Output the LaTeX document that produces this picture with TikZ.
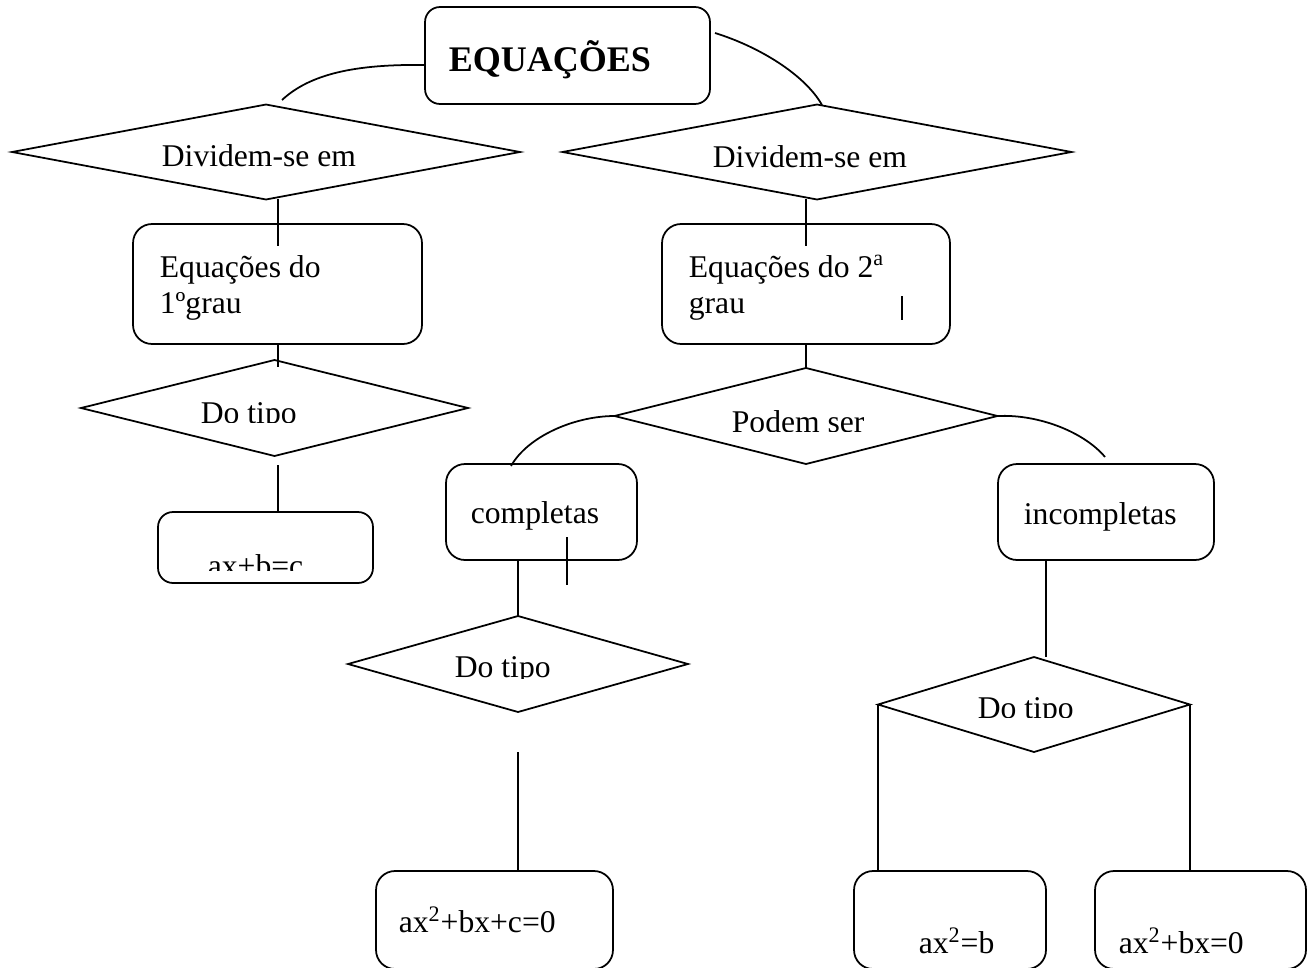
\documentclass[tikz,border=0pt]{standalone}
\usepackage{fontspec}
\setmainfont{Liberation Serif}
\usepackage{tikz}
\usetikzlibrary{shapes.geometric}

\begin{document}
\begin{tikzpicture}[x=0.02cm, y=-0.02cm, line width=1pt,
rbox/.style={draw, rectangle, rounded corners=0.38cm, inner sep=0pt, outer sep=0pt},
dbox/.style={draw, diamond, inner sep=0pt, outer sep=0pt},
lbl/.style={anchor=base west, inner sep=0pt, font=\fontsize{18}{21}\selectfont}]

\useasboundingbox (0,0) rectangle (1307,967);
\clip (0,0) rectangle (1307,967);

% top
\node (eq) at (567.5,55.5) [rbox, rounded corners=0.3cm, minimum width=5.7cm, minimum height=1.94cm] {};
\node (eqt) at (448,71) [lbl, font=\bfseries\fontsize{20.5}{24}\selectfont] {EQUAÇÕES};
\node (div1) at (266,152) [dbox, minimum width=10.16cm, minimum height=1.9cm] {};
\node (div1t) at (161,166) [lbl] {Dividem-se em};
\node (div2) at (817,152) [dbox, minimum width=10.18cm, minimum height=1.9cm] {};
\node (div2t) at (712,167) [lbl] {Dividem-se em};

% 1st degree
\node (g1) at (277.5,284) [rbox, minimum width=5.78cm, minimum height=2.4cm] {};
\node (g1t) at (159,277) [lbl] {Equações do};
\node (g1u) at (159,313) [lbl] {1ºgrau};
\node (tipo1) at (274.5,408) [dbox, minimum width=7.74cm, minimum height=1.92cm] {};
\begin{scope}
\clip (150,380) rectangle (400,422);
\node (tipo1t) at (200,423) [lbl] {Do tipo};
\end{scope}
\node (lin) at (265.5,547.5) [rbox, rounded corners=0.3cm, minimum width=4.3cm, minimum height=1.42cm] {};
\begin{scope}
\clip (180,530) rectangle (350,570);
\node (lint) at (207,576) [lbl] {ax+b=c};
\end{scope}

% 2nd degree
\node (g2) at (806,284) [rbox, minimum width=5.76cm, minimum height=2.4cm] {};
\node (g2t) at (688,277) [lbl] {Equações do 2\textsuperscript{a}};
\node (g2u) at (688,313) [lbl] {grau};
\node (pode) at (806,416) [dbox, minimum width=7.66cm, minimum height=1.92cm] {};
\begin{scope}
\clip (700,390) rectangle (900,431);
\node (podet) at (731,432) [lbl] {Podem ser};
\end{scope}
\node (comp) at (541.5,512) [rbox, minimum width=3.82cm, minimum height=1.92cm] {};
\node (compt) at (470,523) [lbl] {completas};
\node (inc) at (1106,512) [rbox, minimum width=4.32cm, minimum height=1.92cm] {};
\node (inct) at (1023,524) [lbl] {incompletas};
\node (tipo2) at (518,664) [dbox, minimum width=6.8cm, minimum height=1.92cm] {};
\begin{scope}
\clip (430,630) rectangle (600,678);
\node (tipo2t) at (454,677) [lbl] {Do tipo};
\end{scope}
\node (tipo3) at (1034,704.5) [dbox, minimum width=6.24cm, minimum height=1.9cm] {};
\begin{scope}
\clip (950,680) rectangle (1100,717);
\node (tipo3t) at (977,718) [lbl] {Do tipo};
\end{scope}
\node (fc) at (494.5,920) [rbox, minimum width=4.74cm, minimum height=1.96cm] {};
\node (fct) at (398,932) [lbl] {ax\textsuperscript{2}+bx+c=0};
\node (fb) at (950,920) [rbox, minimum width=3.84cm, minimum height=1.96cm] {};
\node (fbt) at (918,953) [lbl] {ax\textsuperscript{2}=b};
\node (fa) at (1200.5,920) [rbox, minimum width=4.22cm, minimum height=1.96cm] {};
\node (fat) at (1118,953) [lbl] {ax\textsuperscript{2}+bx=0};

% free ends
\coordinate (eqL) at (425,65);
\coordinate (div1in) at (282,100);
\coordinate (eqR) at (715,33);
\coordinate (div2in) at (822,105);
\coordinate (div1o) at (278,199);
\coordinate (g1i) at (278,246);
\coordinate (div2o) at (806,199);
\coordinate (g2i) at (806,246);
\coordinate (g1o) at (278,344);
\coordinate (tipo1i) at (278,367);
\coordinate (tipo1o) at (278,465);
\coordinate (lini) at (278,512);
\coordinate (compi) at (511,466);
\coordinate (inci) at (1105,457);
\coordinate (tipo2o) at (518,752);
\coordinate (fci) at (518,872);
\coordinate (inco) at (1046,560);
\coordinate (tipo3i) at (1046,657);
\coordinate (s1a) at (567,537);
\coordinate (s1b) at (567,585);
\coordinate (s2a) at (902,296);
\coordinate (s2b) at (902,320);

\draw (eqL) .. controls (355,64) and (310,74) .. (div1in);
\draw (eqR) .. controls (760,47) and (805,75) .. (div2in);
\draw (div1o) edge (g1i);
\draw (div2o) edge (g2i);
\draw (g1o) edge (tipo1i);
\draw (tipo1o) edge (lini);
\draw (g2) edge (pode);
\draw (pode.west) .. controls (575,416) and (528,436) .. (compi);
\draw (pode.east) .. controls (1040,414) and (1085,433) .. (inci);
\draw (tipo2.north |- comp.south) edge (tipo2.north);
\draw (tipo2o) edge (fci);
\draw (inco) edge (tipo3i);
\draw (tipo3.west) edge (tipo3.west |- fb.north);
\draw (tipo3.east) edge (tipo3.east |- fa.north);
\draw (s1a) edge (s1b);
\draw (s2a) edge (s2b);

\end{tikzpicture}
\end{document}
